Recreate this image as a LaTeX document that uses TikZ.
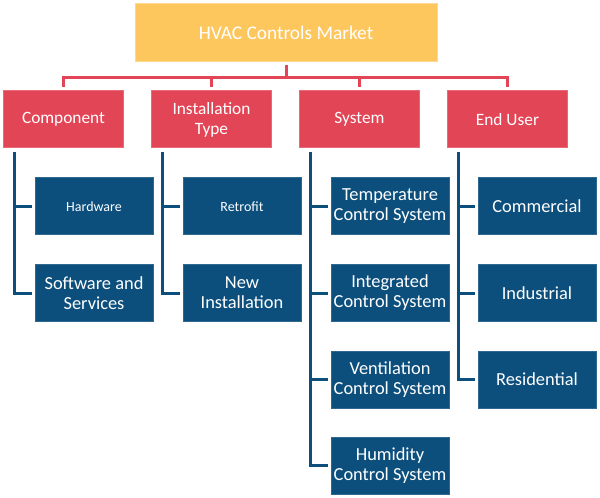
\documentclass[tikz,border=0pt]{standalone}
\usepackage{fontspec}
\setmainfont{Carlito}
\usetikzlibrary{calc}
\definecolor{mktyellow}{HTML}{FEC75E}
\definecolor{segred}{HTML}{E24556}
\definecolor{subblue}{HTML}{0C4F7D}

\begin{document}
\begin{tikzpicture}[x=0.75pt,y=0.75pt,
  market/.style={fill=mktyellow, draw=mktyellow!70!white, line width=0.75pt, inner sep=0pt,
    minimum width=226.5pt, minimum height=43.5pt, text=white, font=\fontsize{14.5}{16}\selectfont},
  segment/.style={fill=segred, draw=segred!80!white, line width=0.75pt, inner sep=0pt, align=center,
    minimum width=90pt, minimum height=42.75pt, text=white, font=\fontsize{13}{15}\selectfont},
  sub/.style={fill=subblue, draw=subblue!85!white, line width=0.75pt, inner sep=0pt, align=center,
    minimum width=88.5pt, minimum height=42.75pt, text=white, font=\fontsize{13.8}{15}\selectfont},
  subsmall/.style={sub, font=\fontsize{10.5}{12}\selectfont},
  redline/.style={draw=segred, line width=2.25pt},
  blueline/.style={draw=subblue, line width=2.25pt}]
  \useasboundingbox (0,0) rectangle (600,497);

  \node[market] (hvac) at (286,464) {HVAC Controls Market};

  \node[segment] (comp) at (63.5,377.5) {Component};
  \node[segment] (inst) at (211.5,377.5) {Installation\\Type};
  \node[segment] (syst) at (359.5,377.5) {System};
  \node[segment] (user) at (507.5,377.5) {End User};

  \node[subsmall] (hard) at (94,290.5) {Hardware};
  \node[sub] (soft) at (94,204) {Software and\\Services};
  \node[subsmall] (retro) at (242,290.5) {Retrofit};
  \node[sub] (newinst) at (242,204) {New\\Installation};
  \node[sub] (temp) at (390,290.5) {Temperature\\Control System};
  \node[sub] (integ) at (390,204) {Integrated\\Control System};
  \node[sub] (vent) at (390,117.5) {Ventilation\\Control System};
  \node[sub] (humid) at (390,31.5) {Humidity\\Control System};
  \node[sub] (comm) at (537,290.5) {Commercial};
  \node[sub] (indus) at (537,204) {Industrial};
  \node[sub] (resid) at (537,117.5) {Residential};

  % red tree
  \coordinate (bus) at ($(hvac.south)+(0,-15)$);
  \draw[redline] ($(hvac.south)+(0,-3)$) -- (bus);
  \draw[redline] (bus) -| ($(comp.north)+(0,3)$);
  \draw[redline] (bus) -| ($(inst.north)+(0,3)$);
  \draw[redline] (bus) -| ($(syst.north)+(0,3)$);
  \draw[redline] (bus) -| ($(user.north)+(0,3)$);

  % blue trunks
  \coordinate (ctop) at ($(comp.south west)+(11,-4)$);
  \coordinate (itop) at ($(inst.south west)+(11,-4)$);
  \coordinate (stop) at ($(syst.south west)+(11,-4)$);
  \coordinate (utop) at ($(user.south west)+(11,-4)$);
  \draw[blueline] (ctop) |- ($(hard.west)+(-3,0)$);
  \draw[blueline] (ctop) |- ($(soft.west)+(-3,0)$);
  \draw[blueline] (itop) |- ($(retro.west)+(-3,0)$);
  \draw[blueline] (itop) |- ($(newinst.west)+(-3,0)$);
  \draw[blueline] (stop) |- ($(temp.west)+(-3,0)$);
  \draw[blueline] (stop) |- ($(integ.west)+(-3,0)$);
  \draw[blueline] (stop) |- ($(vent.west)+(-3,0)$);
  \draw[blueline] (stop) |- ($(humid.west)+(-3,0)$);
  \draw[blueline] (utop) |- ($(comm.west)+(-3,0)$);
  \draw[blueline] (utop) |- ($(indus.west)+(-3,0)$);
  \draw[blueline] (utop) |- ($(resid.west)+(-3,0)$);
\end{tikzpicture}
\end{document}
